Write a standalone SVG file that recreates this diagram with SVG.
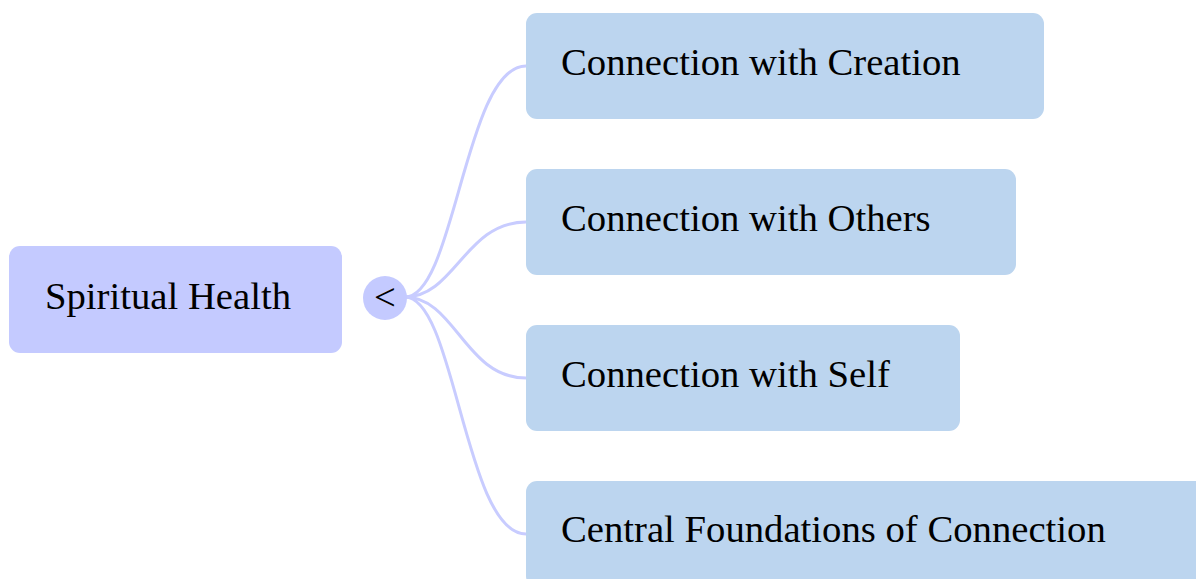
<svg xmlns="http://www.w3.org/2000/svg" width="1196" height="579" viewBox="0 0 1196 579">
<style>
.root{fill:#c4caff}
.child{fill:#bcd5ef}
.lbl{font-family:"Liberation Serif","Times New Roman",serif;font-size:38.7px;fill:#000}
.conn{fill:none;stroke:#c8ccff;stroke-width:3}
</style>
<rect width="1196" height="579" fill="#fff"/>
<g id="connectors">
<path class="conn" d="M405,297 C455,297 465,66 526,66"/>
<path class="conn" d="M405,297 C455,297 465,222 526,222"/>
<path class="conn" d="M405,297 C455,297 465,378 526,378"/>
<path class="conn" d="M405,297 C455,297 465,534 526,534"/>
</g>
<g id="root">
<rect class="root" x="9" y="246" width="333" height="107" rx="11"/>
<text class="lbl" x="45" y="309">Spiritual Health</text>
</g>
<g id="toggle">
<circle class="root" cx="385" cy="298" r="22"/>
<text class="lbl" x="385" y="310" text-anchor="middle">&lt;</text>
</g>
<g id="n1">
<rect class="child" x="526" y="13" width="518" height="106" rx="11"/>
<text class="lbl" x="561" y="75">Connection with Creation</text>
</g>
<g id="n2">
<rect class="child" x="526" y="169" width="490" height="106" rx="11"/>
<text class="lbl" x="561" y="231">Connection with Others</text>
</g>
<g id="n3">
<rect class="child" x="526" y="325" width="434" height="106" rx="11"/>
<text class="lbl" x="561" y="387">Connection with Self</text>
</g>
<g id="n4">
<rect class="child" x="526" y="481" width="700" height="106" rx="11"/>
<text class="lbl" x="561" y="542">Central Foundations of Connection</text>
</g>
</svg>
